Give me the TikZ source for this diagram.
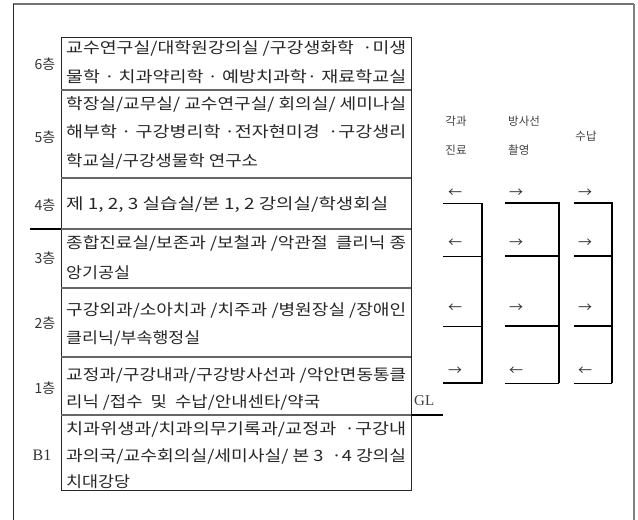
\documentclass[tikz,border=0pt]{standalone}
\usepackage{fontspec}
\usepackage{graphicx}
\setmainfont{Liberation Serif}
\newfontfamily\kr{Noto Sans CJK KR}
\newcommand\fitline[1]{\resizebox{340pt}{\height}{#1}}
\tikzset{
  txt/.style={anchor=west, inner sep=0pt, font=\kr\fontsize{15.5}{16}\selectfont, text=black!85},
  flr/.style={inner sep=0pt, font=\kr\fontsize{14}{14}\selectfont, text=black!80},
  lbl/.style={inner sep=0pt, font=\kr\fontsize{11.5}{12}\selectfont, text=black!75},
  arr/.style={inner sep=0pt, font=\kr\fontsize{14}{14}\selectfont, text=black!80},
  tbl/.style={draw=black!85, line width=0.8pt},
  rowline/.style={draw=black!60, line width=1.1pt},
  thin/.style={draw=black, line width=0.9pt},
  thick/.style={draw=black, line width=2.8pt},
}
\begin{document}
\begin{tikzpicture}[x=1pt,y=-1pt]
\useasboundingbox (0,0) rectangle (638,520);
% frame
\draw[draw=black!55, line width=1.5pt] (13,4) -- (634,4);
\draw[draw=black!85, line width=1pt] (13,4) -- (13,520);
\draw[draw=black!50, line width=2.5pt] (634,4) -- (634,520);
% table
\draw[tbl] (61,37) rectangle (411,490);
\foreach \y in {90,178,229,288,357,415} \draw[rowline] (61,\y) -- (411,\y);
\coordinate (t4a) at (30,229);
\coordinate (t4b) at (61,229);
\draw[thick] (t4a) -- (t4b);
\coordinate (gla) at (411,415);
\coordinate (glb) at (443,415);
\draw[thick] (gla) -- (glb);
\node[inner sep=0pt, anchor=west, font=\fontsize{15}{15}\selectfont, text=black!75] (gl) at (414,401) {GL};
% floor labels
\node[flr] (f6) at (45,64) {6층};
\node[flr] (f5) at (45,137) {5층};
\node[flr] (f4) at (45,205) {4층};
\node[flr] (f3) at (45,258) {3층};
\node[flr] (f2) at (45,323) {2층};
\node[flr] (f1) at (45,388) {1층};
\node[inner sep=0pt, font=\fontsize{16}{16}\selectfont, text=black!80] (fb) at (42,455) {B1};
% room texts
\node[txt] (r6a) at (66,48) {\fitline{교수연구실/대학원강의실 /구강생화학 \ ·미생}};
\node[txt] (r6b) at (66,77) {\fitline{물학 · 치과약리학 · 예방치과학· 재료학교실}};
\node[txt] (r5a) at (66,104) {\fitline{학장실/교무실/ 교수연구실/ 회의실/ 세미나실}};
\node[txt] (r5b) at (66,132) {\fitline{해부학 · 구강병리학 ·전자현미경 \ ·구강생리}};
\node[txt] (r5c) at (66,161) {\resizebox{192pt}{\height}{학교실/구강생물학 연구소}};
\node[txt] (r4) at (66,205) {\resizebox{322pt}{\height}{제 1, 2, 3 실습실/본 1, 2 강의실/학생회실}};
\node[txt] (r3a) at (66,243) {\fitline{종합진료실/보존과 /보철과 /악관절 \ 클리닉 종}};
\node[txt] (r3b) at (66,273) {\resizebox{64pt}{\height}{앙기공실}};
\node[txt] (r2a) at (66,310) {\fitline{구강외과/소아치과 /치주과 /병원장실 /장애인}};
\node[txt] (r2b) at (66,338) {\resizebox{134pt}{\height}{클리닉/부속행정실}};
\node[txt] (r1a) at (66,375) {\fitline{교정과/구강내과/구강방사선과 /악안면동통클}};
\node[txt] (r1b) at (66,402) {\resizebox{254pt}{\height}{리닉 /접수 \ 및 \ 수납/안내센타/약국}};
\node[txt] (rba) at (66,429) {\fitline{치과위생과/치과의무기록과/교정과 \ ·구강내}};
\node[txt] (rbb) at (66,456) {\fitline{과의국/교수회의실/세미사실/ 본 3 \ ·4 강의실}};
\node[txt] (rbc) at (66,482) {\resizebox{64pt}{\height}{치대강당}};
% right labels
\node[lbl] (c1a) at (456,121) {각과};
\node[lbl] (c1b) at (456,150) {진료};
\node[lbl, anchor=west] (c2a) at (508,121) {방사선};
\node[lbl, anchor=west] (c2b) at (508,150) {촬영};
\node[lbl] (c3a) at (586,136) {수납};
% arrows column 1
\node[arr] (a11) at (455,193) {←};
\node[arr] (a12) at (455,243) {←};
\node[arr] (a13) at (455,308) {←};
\node[arr] (a14) at (455,371) {→};
% arrows column 2
\node[arr] (a21) at (516,193) {→};
\node[arr] (a22) at (516,243) {→};
\node[arr] (a23) at (516,308) {→};
\node[arr] (a24) at (516,371) {←};
% arrows column 3
\node[arr] (a31) at (585,193) {→};
\node[arr] (a32) at (585,243) {→};
\node[arr] (a33) at (585,308) {→};
\node[arr] (a34) at (585,371) {←};
% column 1 lines
\coordinate (p1a) at (443,203); \coordinate (p1b) at (482,203);
\coordinate (p1c) at (443,256); \coordinate (p1d) at (482,256);
\coordinate (p1e) at (443,326); \coordinate (p1f) at (482,326);
\coordinate (p1g) at (443,383); \coordinate (p1h) at (482,383);
\draw[thin] (p1a) -- (p1b);
\draw[thin] (p1c) -- (p1d);
\draw[thin] (p1e) -- (p1f);
\draw[thick] (p1g) -- (p1h) -- (p1b);
% column 2 lines
\coordinate (p2a) at (505,203); \coordinate (p2b) at (559,203);
\coordinate (p2c) at (505,256); \coordinate (p2d) at (559,256);
\coordinate (p2e) at (505,326); \coordinate (p2f) at (559,326);
\coordinate (p2g) at (505,383); \coordinate (p2h) at (559,383);
\draw[thin] (p2g) -- (p2h);
\draw[thick] (p2a) -- (p2b) -- (p2h);
\draw[thick] (p2c) -- (p2d);
\draw[thick] (p2e) -- (p2f);
% column 3 lines
\coordinate (p3a) at (574,203); \coordinate (p3b) at (612,203);
\coordinate (p3c) at (574,256); \coordinate (p3d) at (612,256);
\coordinate (p3e) at (574,326); \coordinate (p3f) at (612,326);
\coordinate (p3g) at (574,383); \coordinate (p3h) at (612,383);
\draw[thin] (p3g) -- (p3h);
\draw[thick] (p3a) -- (p3b) -- (p3h);
\draw[thick] (p3c) -- (p3d);
\draw[thick] (p3e) -- (p3f);
\end{tikzpicture}
\end{document}
